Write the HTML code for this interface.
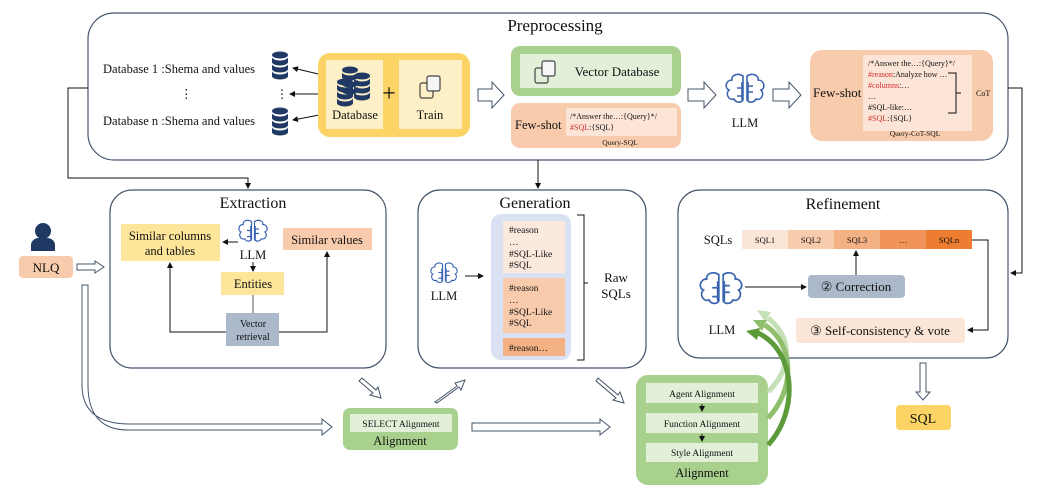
<!DOCTYPE html>
<html><head><meta charset="utf-8"><style>
body{margin:0;background:#fff}
svg{display:block}
text{font-family:"Liberation Serif",serif;fill:#111}
</style></head><body>
<svg width="1063" height="488" viewBox="0 0 1063 488" xmlns="http://www.w3.org/2000/svg">
<defs>
<marker id="ah" markerWidth="6" markerHeight="6" refX="5" refY="3" orient="auto" markerUnits="userSpaceOnUse"><path d="M0,0 L6,3 L0,6z" fill="#111"/></marker>
<g id="db"><ellipse cx="0" cy="0" rx="8" ry="3.5" fill="#1f3864"/><path d="M-8,2 v5 a8,3.5 0 0 0 16,0 v-5 a8,3.5 0 0 1 -16,0z" fill="#1f3864"/><path d="M-8,9 v5 a8,3.5 0 0 0 16,0 v-5 a8,3.5 0 0 1 -16,0z" fill="#1f3864"/><path d="M-8,16 v5 a8,3.5 0 0 0 16,0 v-5 a8,3.5 0 0 1 -16,0z" fill="#1f3864"/></g>
<g id="brain" fill="none" stroke="#3a64b0" stroke-width="1.6"><path d="M-2,-14 c-6,-4 -12,0 -11,4 c-6,0 -8,8 -3,10 c-4,4 0,11 5,9 c2,4 7,4 9,1z"/><path d="M2,-14 c6,-4 12,0 11,4 c6,0 8,8 3,10 c4,4 0,11 -5,9 c-2,4 -7,4 -9,1z"/><path d="M-3,-8 v18 M3,-8 v18 M-8,-2 h5 M3,2 h5 M-8,6 h5 M3,-4 h5"/></g>
<g id="copy" fill="none" stroke="#444" stroke-width="1.2"><rect x="-10" y="-4" width="13" height="15" rx="2"/><rect x="-3" y="-11" width="13" height="15" rx="2" fill="#f6f6f6"/></g>
</defs>

<!-- Preprocessing -->
<rect x="88" y="13" width="920" height="147" rx="26" fill="none" stroke="#44546a" stroke-width="1.2"/>
<text x="555" y="31" font-size="17" text-anchor="middle">Preprocessing</text>
<text x="103" y="73" font-size="12.5">Database 1 :Shema and values</text>
<text x="180" y="98" font-size="12.5">⋮</text>
<text x="103" y="125" font-size="12.5">Database n :Shema and values</text>
<use href="#db" x="280" y="55"/>
<text x="276" y="98" font-size="12">⋮</text>
<use href="#db" x="280" y="111"/>
<line x1="335" y1="78" x2="293" y2="68" stroke="#111" marker-end="url(#ah)"/>
<line x1="335" y1="94" x2="290" y2="94" stroke="#111" marker-end="url(#ah)"/>
<line x1="335" y1="112" x2="293" y2="120" stroke="#111" marker-end="url(#ah)"/>
<rect x="318" y="53" width="152" height="84" rx="12" fill="#fcd465"/>
<rect x="326" y="60" width="57" height="69" fill="#fdefc6"/>
<rect x="399" y="60" width="63" height="69" fill="#fdefc6"/>
<use href="#db" x="350" y="70"/><use href="#db" x="362" y="76"/><use href="#db" x="345" y="82"/>
<text x="355" y="119" font-size="12.5" text-anchor="middle">Database</text>
<text x="389" y="101" font-size="24" text-anchor="middle" fill="#333">+</text>
<use href="#copy" x="430" y="87"/>
<text x="430" y="119" font-size="12.5" text-anchor="middle">Train</text>
<path d="M478,89 h14 v-7 l12,13 l-12,13 v-7 h-14z" fill="#fff" stroke="#44546a"/>
<rect x="511" y="46" width="170" height="50" rx="9" fill="#a9d18e"/>
<rect x="520" y="54" width="152" height="34" fill="#e2f0d9"/>
<use href="#copy" x="545" y="72"/>
<text x="617" y="76" font-size="13" text-anchor="middle">Vector  Database</text>
<rect x="511" y="103" width="170" height="45" rx="9" fill="#f8cbad"/>
<rect x="566" y="108" width="111" height="28" fill="#fce4d6"/>
<text x="515" y="129" font-size="12.5">Few-shot</text>
<text x="570" y="119" font-size="8">/*Answer the…:{Query}*/</text>
<text x="570" y="130" font-size="8"><tspan fill="#d03030">#SQL</tspan>:{SQL}</text>
<text x="620" y="145" font-size="7.5" text-anchor="middle">Query-SQL</text>
<path d="M688,89 h16 v-7 l12,13 l-12,13 v-7 h-16z" fill="#fff" stroke="#44546a"/>
<use href="#brain" x="745" y="90"/>
<text x="745" y="127" font-size="12.5" text-anchor="middle">LLM</text>
<path d="M773,89 h16 v-7 l12,13 l-12,13 v-7 h-16z" fill="#fff" stroke="#44546a"/>
<rect x="810" y="50" width="183" height="91" rx="12" fill="#f8cbad"/>
<rect x="863" y="55" width="109" height="76" fill="#fce4d6"/>
<text x="813" y="97" font-size="13">Few-shot</text>
<g font-size="8"><text x="868" y="66">/*Answer the…:{Query}*/</text>
<text x="868" y="77"><tspan fill="#d03030">#reason</tspan>:Analyze how …</text>
<text x="868" y="88"><tspan fill="#d03030">#columns</tspan>:…</text>
<text x="868" y="99">…</text>
<text x="868" y="110" fill="#d03030">#SQL-like:…</text>
<text x="868" y="121"><tspan fill="#d03030">#SQL</tspan>:{SQL}</text></g>
<path d="M948,73 h8 v20 h5 M961,93 h-5 v20 h-8" fill="none" stroke="#111"/>
<text x="976" y="96" font-size="8">CoT</text>
<text x="915" y="136" font-size="7.5" text-anchor="middle">Query-CoT-SQL</text>

<!-- connectors -->
<polyline points="88,88 68,88 68,178 248,178 248,188" fill="none" stroke="#111" marker-end="url(#ah)"/>
<line x1="538" y1="160" x2="538" y2="188" stroke="#111" marker-end="url(#ah)"/>
<polyline points="1008,88 1022,88 1022,273 1011,273" fill="none" stroke="#111" marker-end="url(#ah)"/>

<!-- NLQ -->
<circle cx="43" cy="231" r="8" fill="#1f3864"/>
<path d="M31,251 v-6 a8,7 0 0 1 8,-7 h8 a8,7 0 0 1 8,7 v6z" fill="#1f3864"/>
<rect x="19" y="256" width="54" height="22" rx="4" fill="#f8cbad"/>
<text x="46" y="272" font-size="13" text-anchor="middle">NLQ</text>
<path d="M77,264 h18 v-3 l9,6 l-9,6 v-3 h-18z" fill="#fff" stroke="#44546a"/>
<path d="M82,285 V385 Q82,424 130,424 H322 v-5 l10,8 l-10,8 v-5 H130 Q88,431 88,385 V285z" fill="#fff" stroke="#44546a"/>

<!-- Extraction -->
<rect x="110" y="190" width="276" height="178" rx="22" fill="none" stroke="#44546a" stroke-width="1.2"/>
<text x="253" y="208" font-size="16" text-anchor="middle">Extraction</text>
<rect x="121" y="224" width="99" height="37" fill="#fde69a"/>
<text x="170" y="240" font-size="12.5" text-anchor="middle">Similar columns</text>
<text x="170" y="255" font-size="12.5" text-anchor="middle">and tables</text>
<use href="#brain" transform="translate(253,232) scale(0.75)"/>
<text x="253" y="259" font-size="12.5" text-anchor="middle">LLM</text>
<line x1="238" y1="242" x2="223" y2="242" stroke="#111" marker-end="url(#ah)"/>
<rect x="283" y="228" width="89" height="22" fill="#f8cbad"/>
<text x="327" y="244" font-size="12.5" text-anchor="middle">Similar values</text>
<line x1="253" y1="262" x2="253" y2="271" stroke="#111" marker-end="url(#ah)"/>
<rect x="221" y="272" width="63" height="23" fill="#fde69a"/>
<text x="253" y="288" font-size="12.5" text-anchor="middle">Entities</text>
<line x1="253" y1="295" x2="253" y2="313" stroke="#555"/>
<rect x="226" y="313" width="53" height="33" fill="#acb9ca"/>
<text x="253" y="327" font-size="10" text-anchor="middle">Vector</text>
<text x="253" y="340" font-size="10" text-anchor="middle">retrieval</text>
<polyline points="226,332 170,332 170,263" fill="none" stroke="#111" marker-end="url(#ah)"/>
<polyline points="279,332 327,332 327,252" fill="none" stroke="#111" marker-end="url(#ah)"/>

<!-- Generation -->
<rect x="418" y="190" width="228" height="178" rx="22" fill="none" stroke="#44546a" stroke-width="1.2"/>
<text x="535" y="208" font-size="16" text-anchor="middle">Generation</text>
<use href="#brain" transform="translate(444,274) scale(0.7)"/>
<text x="444" y="300" font-size="12.5" text-anchor="middle">LLM</text>
<line x1="465" y1="276" x2="483" y2="276" stroke="#111" marker-end="url(#ah)"/>
<rect x="491" y="214" width="80" height="146" rx="10" fill="#d9e1f2"/>
<rect x="503" y="221" width="62" height="52" fill="#fce9de"/>
<rect x="503" y="278" width="62" height="55" fill="#f8cbad"/>
<rect x="503" y="338" width="62" height="18" fill="#f4b183"/>
<g font-size="9.5"><text x="509" y="233">#reason</text><text x="509" y="245">…</text><text x="509" y="257">#SQL-Like</text><text x="509" y="268">#SQL</text>
<text x="509" y="291">#reason</text><text x="509" y="303">…</text><text x="509" y="315">#SQL-Like</text><text x="509" y="326">#SQL</text>
<text x="509" y="351">#reason…</text></g>
<path d="M577,215 h7 v68 h4 M588,283 h-4 v77 h-7" fill="none" stroke="#111"/>
<text x="616" y="282" font-size="13" text-anchor="middle">Raw</text>
<text x="616" y="298" font-size="13" text-anchor="middle">SQLs</text>

<!-- Refinement -->
<rect x="678" y="190" width="330" height="168" rx="22" fill="none" stroke="#44546a" stroke-width="1.2"/>
<text x="843" y="209" font-size="16" text-anchor="middle">Refinement</text>
<text x="718" y="244" font-size="12.5" text-anchor="middle">SQLs</text>
<rect x="742" y="230" width="46" height="19" fill="#fbe5d6"/>
<rect x="788" y="230" width="46" height="19" fill="#f8cbad"/>
<rect x="834" y="230" width="46" height="19" fill="#f4b183"/>
<rect x="880" y="230" width="46" height="19" fill="#f1945a"/>
<rect x="926" y="230" width="46" height="19" fill="#ed7d31"/>
<g font-size="8.5" text-anchor="middle"><text x="765" y="243">SQL1</text><text x="811" y="243">SQL2</text><text x="857" y="243">SQL3</text><text x="903" y="243">…</text><text x="949" y="243">SQLn</text></g>
<use href="#brain" transform="translate(721,290) scale(1.1)"/>
<text x="722" y="334" font-size="12.5" text-anchor="middle">LLM</text>
<line x1="745" y1="287" x2="806" y2="287" stroke="#111" marker-end="url(#ah)"/>
<rect x="808" y="275" width="97" height="23" rx="4" fill="#acb9ca"/>
<text x="856" y="291" font-size="13" text-anchor="middle">② Correction</text>
<line x1="856" y1="275" x2="856" y2="251" stroke="#111" marker-end="url(#ah)"/>
<rect x="796" y="318" width="169" height="25" rx="3" fill="#fbe5d6"/>
<text x="880" y="335" font-size="13" text-anchor="middle">③ Self-consistency &amp; vote</text>
<polyline points="972,240 988,240 988,330 968,330" fill="none" stroke="#111" marker-end="url(#ah)"/>
<path d="M920,363 h6 v29 h4 l-7,8 l-7,-8 h4z" fill="#fff" stroke="#44546a"/>
<rect x="896" y="405" width="55" height="25" rx="4" fill="#fcd465"/>
<text x="923" y="423" font-size="14" text-anchor="middle">SQL</text>

<!-- SELECT Alignment -->
<path d="M362,378 l14,12 l2,-3 l3,11 l-11,-3 l3,-2 l-14,-12z" fill="#fff" stroke="#44546a"/>
<rect x="343" y="408" width="115" height="42" rx="7" fill="#a9d18e"/>
<rect x="350" y="414" width="102" height="18" fill="#e2f0d9"/>
<text x="401" y="427" font-size="9.5" text-anchor="middle">SELECT Alignment</text>
<text x="400" y="445" font-size="12.5" text-anchor="middle">Alignment</text>
<path d="M435,402 l22,-16 l-2,-3 l10,-3 l-4,10 l-2,-3 l-22,16z" fill="#fff" stroke="#44546a"/>
<path d="M472,423 h128 v-4 l10,8 l-10,8 v-4 h-128z" fill="#fff" stroke="#44546a"/>
<path d="M598,378 l20,17 l2,-3 l4,11 l-11,-3 l3,-2 l-20,-17z" fill="#fff" stroke="#44546a"/>

<!-- Alignment big -->
<rect x="636" y="375" width="132" height="110" rx="12" fill="#a9d18e"/>
<rect x="646" y="383" width="112" height="20" fill="#e2f0d9"/>
<rect x="646" y="413" width="112" height="20" fill="#e2f0d9"/>
<rect x="646" y="443" width="112" height="19" fill="#e2f0d9"/>
<g font-size="9.5" text-anchor="middle"><text x="702" y="397">Agent Alignment</text><text x="702" y="427">Function Alignment</text><text x="702" y="456">Style Alignment</text></g>
<text x="702" y="477" font-size="12.5" text-anchor="middle">Alignment</text>
<line x1="702" y1="404" x2="702" y2="411" stroke="#111" marker-end="url(#ah)"/>
<line x1="702" y1="434" x2="702" y2="441" stroke="#111" marker-end="url(#ah)"/>
<!-- green curved arrows -->
<path d="M768,392 C790,370 795,340 768,318" fill="none" stroke="#c5e0b4" stroke-width="5"/>
<path d="M771,312 l-14,-2 l8,12z" fill="#c5e0b4"/>
<path d="M768,418 C795,390 795,345 765,325" fill="none" stroke="#8fbf6c" stroke-width="5"/>
<path d="M767,320 l-14,0 l9,11z" fill="#8fbf6c"/>
<path d="M768,445 C800,410 795,350 758,333" fill="none" stroke="#5c9a3a" stroke-width="5"/>
<path d="M760,328 l-14,3 l11,9z" fill="#5c9a3a"/>
</svg>
</body></html>
